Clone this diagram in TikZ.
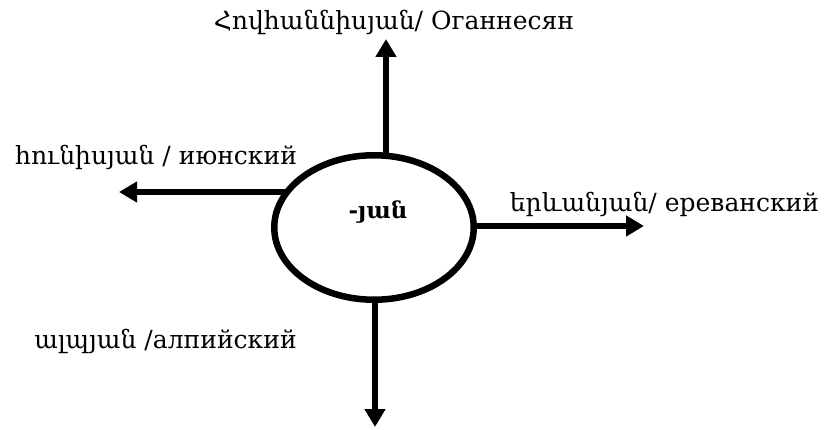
\documentclass[tikz,border=0pt]{standalone}
\usepackage{fontspec}
\setmainfont{DejaVu Serif}
\usetikzlibrary{shapes.geometric,arrows.meta,backgrounds}
\tikzset{
  arr/.style={line width=6.5pt,-{Triangle[length=18pt,width=20pt]}},
  lab/.style={inner sep=0pt,anchor=base,font=\fontsize{25}{30}\selectfont},
  oval/.style={ellipse,draw,line width=6.5pt,fill=white,minimum width=199.5pt,minimum height=144.5pt,inner sep=0pt}
}
\begin{document}
\begin{tikzpicture}[x=1pt,y=-1pt]
\useasboundingbox (0,0) rectangle (827,430);
\node[oval] (e) at (374,227.5) {};
\node[inner sep=0pt,anchor=base,font=\fontsize{23}{27}\selectfont\bfseries] (c) at (378,219) {-յան};
\coordinate (tp) at (386,39);
\coordinate (bt) at (375,427);
\coordinate (lt) at (119,192);
\coordinate (rt) at (644,226);
\begin{scope}[on background layer]
\draw[arr] (tp |- e.center) -- (tp);
\draw[arr] (bt |- e.center) -- (bt);
\draw[arr] (e.center |- lt) -- (lt);
\draw[arr] (e.center |- rt) -- (rt);
\end{scope}
\node[lab] (t1) at (394,30) {Հովհաննիսյան/ Оганнесян};
\node[lab] (t2) at (156,165) {հունիսյան / июнский};
\node[lab] (t3) at (664.5,212) {երևանյան/ ереванский};
\node[lab] (t4) at (165.5,348) {ալպյան /алпийский};
\end{tikzpicture}
\end{document}
